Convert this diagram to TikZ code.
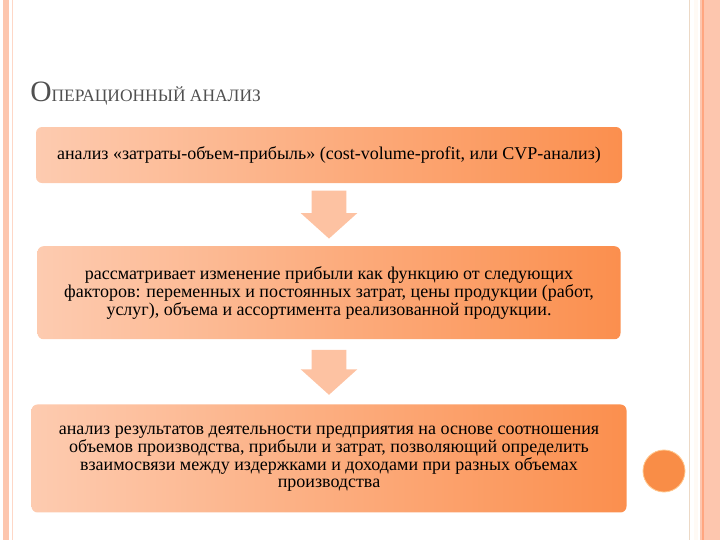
\documentclass[tikz,border=0pt]{standalone}
\usepackage{fontspec}
\setmainfont{Liberation Serif}
\usepackage{xcolor}
\usetikzlibrary{positioning,shapes.arrows}
\definecolor{peach}{HTML}{FDCBB0}
\definecolor{deeporange}{HTML}{FB8F4E}
\definecolor{arrowpeach}{HTML}{FDC2A2}
\definecolor{stripe}{HTML}{FDC6AE}
\definecolor{titlegray}{HTML}{505050}
\definecolor{dotorange}{HTML}{F98D47}
\tikzstyle{stepbox} = [rectangle, rounded corners=0.15cm, align=center, draw=none, left color=peach, right color=deeporange, font=\fontsize{12.8}{11.8}\selectfont]
\tikzstyle{downarrow} = [single arrow, shape border rotate=270, draw=none, fill=arrowpeach, minimum height=1.2cm, single arrow head extend=0.275cm, single arrow tip angle=96, inner xsep=0.425cm, inner ysep=0.05cm]

\begin{document}
\begin{tikzpicture}[node distance=0.2cm]
\useasboundingbox (0,0) rectangle (18,-13.5);
% page frame
\fill[stripe] (0.075,0) rectangle (0.225,-13.5);
\draw[stripe!70, line width=0.5pt] (0.3,0) -- (0.3,-13.5);
\draw[brown!30, line width=0.6pt] (17.225,0) -- (17.225,-13.5);
\fill[orange!4] (17.35,0) rectangle (17.45,-13.5);
\fill[stripe] (17.5,0) rectangle (18,-13.5);
\draw[orange!60!red!50, line width=0.8pt] (17.575,0) -- (17.575,-13.5);
\node (title) [anchor=base west, text=titlegray, inner sep=0pt] at (0.75,-2.54)
  {\fontsize{21}{24}\selectfont О\fontsize{12.4}{15}\selectfont ПЕРАЦИОННЫЙ АНАЛИЗ};
% boxes and arrows
\node (cvp) [stepbox, minimum width=14.65cm, minimum height=1.4cm] at (8.225,-3.875)
  {анализ «затраты-объем-прибыль» (cost-volume-profit, или CVP-анализ)};
\node (arr1) [downarrow, below = 0.175cm of cvp] {};
\node (factors) [stepbox, minimum width=14.575cm, minimum height=2.325cm, below = 0.175cm of arr1]
  {рассматривает изменение прибыли как функцию от следующих\\
   факторов: переменных и постоянных затрат, цены продукции (работ,\\
   услуг), объема и ассортимента реализованной продукции.};
\node (arr2) [downarrow, minimum height=1.125cm, below = 0.25cm of factors] {};
\node (result) [stepbox, minimum width=14.875cm, minimum height=2.7cm, below = 0.225cm of arr2]
  {анализ результатов деятельности предприятия на основе соотношения\\
   объемов производства, прибыли и затрат, позволяющий определить\\
   взаимосвязи между издержками и доходами при разных объемах\\
   производства};
\node (dot) [circle, fill=dotorange, draw=orange!45, line width=0.6pt, minimum size=1.05cm, inner sep=0pt] at (16.6,-11.775) {};
\end{tikzpicture}
\end{document}
